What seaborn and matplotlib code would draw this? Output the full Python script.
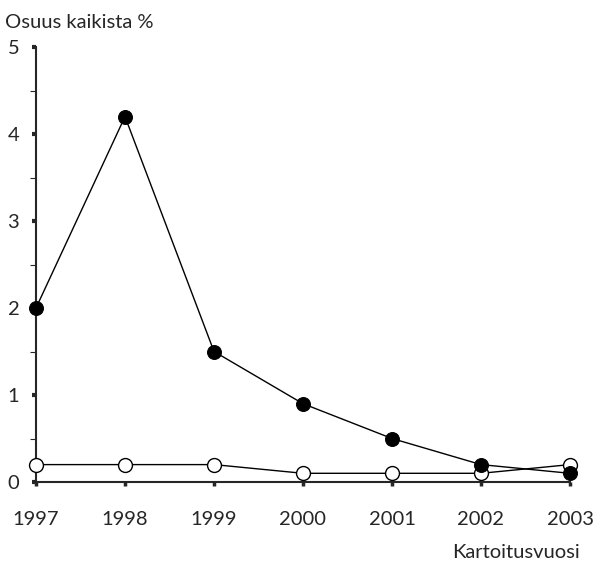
import matplotlib
matplotlib.use("Agg")
import matplotlib.pyplot as plt
from matplotlib.ticker import MultipleLocator
import pandas as pd
import seaborn as sns

# data
years = [1997, 1998, 1999, 2000, 2001, 2002, 2003]
filled = [2.0, 4.2, 1.5, 0.9, 0.5, 0.2, 0.1]
hollow = [0.2, 0.2, 0.2, 0.1, 0.1, 0.1, 0.2]

df = pd.DataFrame({"vuosi": years, "filled": filled, "hollow": hollow})

sns.set_style("ticks")
plt.rcParams["font.family"] = ["Lato", "DejaVu Sans"]

fig = plt.figure(figsize=(5.93, 5.62), dpi=100)
ax = fig.add_axes([36 / 593, 80 / 562, 534 / 593, 435 / 562])

sns.lineplot(data=df, x="vuosi", y="hollow", ax=ax, color="black", lw=1,
             marker="o", markersize=10, markerfacecolor="white",
             markeredgecolor="black", markeredgewidth=1, clip_on=False, zorder=3)
sns.lineplot(data=df, x="vuosi", y="filled", ax=ax, color="black", lw=1,
             marker="o", markersize=10, markerfacecolor="black",
             markeredgecolor="black", clip_on=False, zorder=4)

ax.set_xlim(1997, 2003)
ax.set_ylim(0, 5)
ax.set_xticks(years)
ax.set_yticks([0, 1, 2, 3, 4, 5])
ax.yaxis.set_minor_locator(MultipleLocator(0.5))
ax.tick_params(axis="y", which="major", length=3, width=3, direction="out",
               pad=9, labelsize=14.5)
ax.tick_params(axis="y", which="minor", length=4, width=0.8, direction="out")
ax.tick_params(axis="x", which="major", length=3, width=2.5, direction="out",
               pad=18, labelsize=14.5)
ax.set_xlabel("")
ax.set_ylabel("")
for s in ["top", "right"]:
    ax.spines[s].set_visible(False)
ax.spines["left"].set_linewidth(1.5)
ax.spines["bottom"].set_linewidth(1.5)

fig.text(5 / 593, 1 - 22 / 562, "Osuus kaikista %", fontsize=14.5, va="center", ha="left")
fig.text(580 / 593, 1 - 552 / 562, "Kartoitusvuosi", fontsize=14.5, va="center", ha="right")

fig.savefig("out.png", dpi=100)
